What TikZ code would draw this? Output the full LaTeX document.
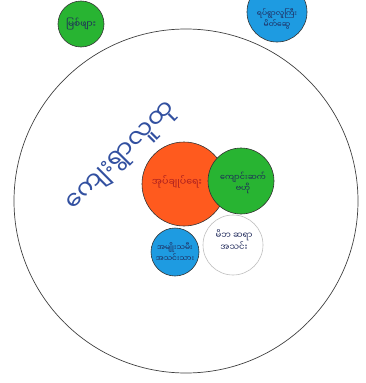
\documentclass[tikz,border=0pt]{standalone}
\usepackage{fontspec}
\newfontfamily\mya[Script=Myanmar]{Noto Sans Myanmar UI}
\definecolor{cgreen}{RGB}{40,180,50}
\definecolor{cblue}{RGB}{30,155,225}
\definecolor{corange}{RGB}{255,90,30}
\definecolor{cink}{RGB}{30,40,90}
\definecolor{cpen}{RGB}{50,80,160}
\definecolor{cred}{RGB}{170,30,30}
\begin{document}
\begin{tikzpicture}[x=1pt,y=-1pt,
  bub/.style={circle,draw=black!80,line width=0.6pt,inner sep=0pt,minimum size=#1},
  lbl/.style={font=\mya\fontsize{7.5}{8.5}\selectfont,text=cink,align=center}]
\useasboundingbox (0,0) rectangle (366,383);
\node[circle,draw=black!75,line width=0.7pt,minimum size=344pt,inner sep=0pt] (big) at (186,201) {};
\node[bub=46pt,fill=cgreen] (tl) at (81,24) {};
\node[lbl,font=\mya\fontsize{9}{10}\selectfont] (tlt) at (tl) {မြစ်ဖျား};
\node[bub=60pt,fill=cblue] (tr) at (277,12) {};
\node[lbl] (trt) at (277,19) {ရပ်ရွာလူကြီး\\မိတ်ဆွေ};
\node[bub=60pt,draw=black!25,fill=white] (wh) at (233,245) {};
\node[bub=48pt,fill=cblue] (bb) at (175,252) {};
\node[bub=84pt,fill=corange] (or) at (184,184) {};
\node[bub=66pt,fill=cgreen] (gr) at (241,181) {};
\node[lbl,font=\mya\fontsize{8.5}{9.5}\selectfont] (wht) at (234,240) {မိဘ ဆရာ\\အသင်း};
\node[lbl] (bbt) at (bb) {အမျိုးသမီး\\အသင်းသား};
\node[lbl,text=cred,font=\mya\fontsize{9.5}{10}\selectfont] (ort) at (177,182) {အုပ်ချုပ်ရေး};
\node[lbl,font=\mya\fontsize{8}{9}\selectfont] (grt) at (243,183) {ကျောင်းဆက်\\ဗဟို};
\node[font=\mya\fontsize{25}{27}\selectfont,text=cpen,rotate=45] (vil) at (123,158) {ကျေးရွာလူထု};
\end{tikzpicture}
\end{document}
